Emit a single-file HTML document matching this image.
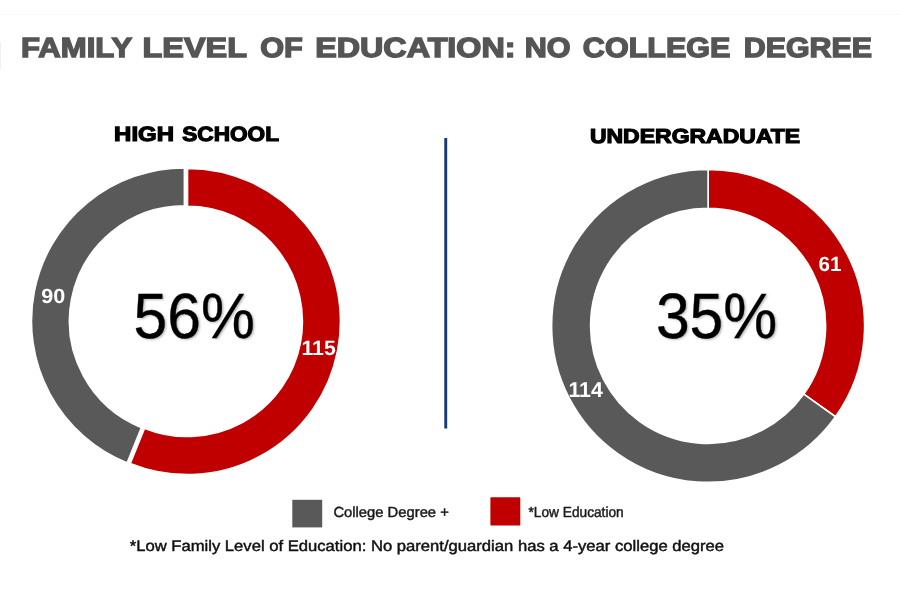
<!DOCTYPE html>
<html lang="en">
<head>
<meta charset="utf-8">
<title>Family Level of Education: No College Degree</title>
<style>
  html,body{margin:0;padding:0;background:#fff;}
  body{width:900px;height:598px;position:relative;overflow:hidden;text-rendering:geometricPrecision;font-family:"Liberation Sans",sans-serif;}
  .abs{position:absolute;left:0;top:0;white-space:nowrap;line-height:1;margin:0;transform-origin:0 0;}
  h1,h2{font-size:inherit;}
  h1.title{font-weight:bold;color:#555;word-spacing:0px;letter-spacing:0px;-webkit-text-stroke:1.4px #555;}
  h2.sub{font-weight:bold;color:#000;word-spacing:0px;letter-spacing:0px;-webkit-text-stroke:1.2px #000;}
  .pct{color:#000;text-shadow:1.5px 1.5px 2.5px rgba(0,0,0,.3);-webkit-text-stroke:0.3px #000;}
  .val{font-weight:bold;color:#fff;}
  .leg{color:#1a1a1a;-webkit-text-stroke:0.45px #1a1a1a;}
  .note{color:#111;-webkit-text-stroke:0.45px #111;}
  svg{position:absolute;left:0;top:0;}
  .topline{position:absolute;left:0;top:14px;width:900px;height:1px;background:#f8f8f8;}
  .tab{position:absolute;left:0;top:42px;width:1px;height:27px;background:#f0f0f0;}
</style>
</head>
<body>
  <div class="topline"></div>
  <div class="tab"></div>
  <h1 class="abs title" id="title"><span class="abs" id="t0" style="font-size:27.9px;transform:translate(21.10px,33.70px) scale(1.1145,0.9950);">FAMILY</span> <span class="abs" id="t1" style="font-size:27.9px;transform:translate(142.60px,33.70px) scale(1.1607,0.9950);">LEVEL</span> <span class="abs" id="t2" style="font-size:27.9px;transform:translate(260.17px,33.70px) scale(1.1005,0.9950);">OF</span> <span class="abs" id="t3" style="font-size:27.9px;transform:translate(315.17px,33.70px) scale(1.1582,0.9950);">EDUCATION:</span> <span class="abs" id="t4" style="font-size:27.9px;transform:translate(524.70px,33.70px) scale(1.0971,0.9950);">NO</span> <span class="abs" id="t5" style="font-size:27.9px;transform:translate(582.85px,33.70px) scale(1.0951,0.9950);">COLLEGE</span> <span class="abs" id="t6" style="font-size:27.9px;transform:translate(743.75px,33.70px) scale(1.0896,0.9950);">DEGREE</span></h1>
  <h2 class="abs sub" id="hs"><span class="abs" id="h0" style="font-size:20.8px;transform:translate(114.10px,125.70px) scale(1.1515,0.9850);">HIGH</span> <span class="abs" id="h1" style="font-size:20.8px;transform:translate(182.28px,125.70px) scale(1.0870,0.9850);">SCHOOL</span></h2>
  <h2 class="abs sub" id="ug" style="font-size:20.8px;transform:translate(589.90px,127.10px) scale(1.1054,0.9770);">UNDERGRADUATE</h2>
  <svg width="900" height="598" viewBox="0 0 900 598">
    <path d="M187.32 168.17A153.3 153.3 0 1 1 130.02 463.65L144.37 428.04A114.9 114.9 0 1 0 187.32 206.57Z" fill="#c00000" stroke="#ffffff" stroke-width="2"/>
    <path d="M127.27 463.12A153.3 153.3 0 0 1 184.58 167.63L184.58 206.03A114.9 114.9 0 0 0 141.62 427.50Z" fill="#595959" stroke="#ffffff" stroke-width="2"/>
    <path d="M708.10 169.40A156.5 156.5 0 0 1 835.53 416.75L803.78 394.11A117.5 117.5 0 0 0 708.10 208.40Z" fill="#c00000" stroke="#ffffff" stroke-width="1.6"/>
    <path d="M835.53 416.75A156.5 156.5 0 1 1 708.10 169.40L708.10 208.40A117.5 117.5 0 1 0 803.78 394.11Z" fill="#595959" stroke="#ffffff" stroke-width="1.6"/>
    <rect class="sw" x="292.3" y="499.8" width="29.9" height="27.6" fill="#595959"/>
    <rect class="sw" x="490.4" y="497.3" width="29.9" height="28.3" rx="0.8" fill="#c00000"/>
    <line class="divider" x1="445.75" y1="138" x2="445.75" y2="428.4" stroke="#163a76" stroke-width="2.9"/>
  </svg>
  <div class="abs pct" id="p1" style="font-size:62px;transform:translate(133.60px,285.20px) scale(0.9779,1.0320);">56%</div>
  <div class="abs pct" id="p2" style="font-size:62px;transform:translate(655.88px,285.10px) scale(0.9783,1.0340);">35%</div>
  <div class="abs val" id="v90" style="font-size:20px;transform:translate(41.15px,286.80px) scale(1.0792,1.0280);">90</div>
  <div class="abs val" id="v115" style="font-size:20px;transform:translate(301.45px,338.30px) scale(1.0613,1.0380);">115</div>
  <div class="abs val" id="v61" style="font-size:20px;transform:translate(818.50px,254.30px) scale(1.0286,1.0290);">61</div>
  <div class="abs val" id="v114" style="font-size:20px;transform:translate(568.44px,380.20px) scale(1.0659,1.0650);">114</div>
  <div class="abs leg" id="l1" style="font-size:14.2px;transform:translate(333.39px,505.40px) scale(1.0417,1.0300);">College Degree +</div>
  <div class="abs leg" id="l2" style="font-size:14.2px;transform:translate(528.52px,505.40px) scale(0.9650,1.0300);">*Low Education</div>
  <div class="abs note" id="fn" style="font-size:15.2px;transform:translate(129.67px,539.41px) scale(1.0949,1.0000);">*Low Family Level of Education: No parent/guardian has a 4-year college degree</div>
</body>
</html>
